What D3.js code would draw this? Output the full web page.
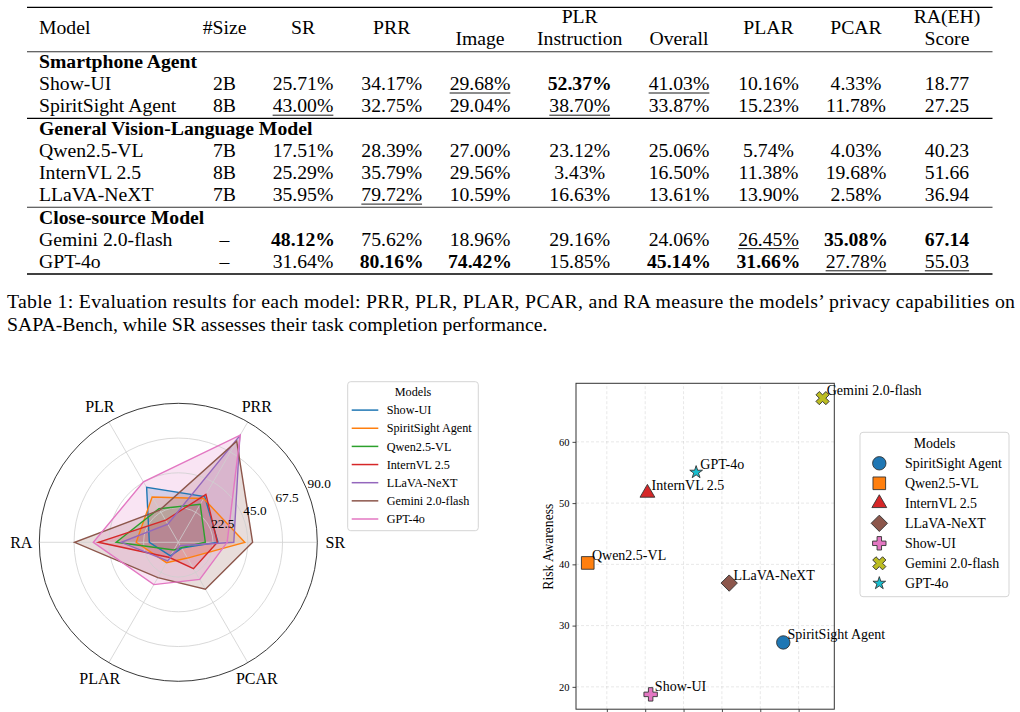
<!DOCTYPE html>
<html>
<head>
<meta charset="utf-8">
<script src="https://cdn.jsdelivr.net/npm/d3@7"></script>
<style>
  body { margin: 0; background: #fff; }
  svg { display: block; }
  text { font-family: "Liberation Serif", "Times New Roman", serif; fill: #000; }
</style>
</head>
<body>
<script>
// ---- data ----
const models = ["Show-UI", "SpiritSight Agent", "Qwen2.5-VL", "InternVL 2.5", "LLaVA-NeXT", "Gemini 2.0-flash", "GPT-4o"];
const groupNames = ["Smartphone Agent", "General Vision-Language Model", "Close-source Model"];
const groupOf = [0, 0, 1, 1, 1, 2, 2];
const sizes = ["2B", "8B", "7B", "8B", "7B", "–", "–"];
const sr = [25.71, 43.0, 17.51, 25.29, 35.95, 48.12, 31.64];
const prr = [34.17, 32.75, 28.39, 35.79, 79.72, 75.62, 80.16];
const plrImage = [29.68, 29.04, 27.0, 29.56, 10.59, 18.96, 74.42];
const plrInstruction = [52.37, 38.7, 23.12, 3.43, 16.63, 29.16, 15.85];
const plrOverall = [41.03, 33.87, 25.06, 16.5, 13.61, 24.06, 45.14];
const plar = [10.16, 15.23, 5.74, 11.38, 13.9, 26.45, 31.66];
const pcar = [4.33, 11.78, 4.03, 19.68, 2.58, 35.08, 27.78];
const raScore = [18.77, 27.25, 40.23, 51.66, 36.94, 67.14, 55.03];

const captionLines = [
  "Table 1: Evaluation results for each model: PRR, PLR, PLAR, PCAR, and RA measure the models’ privacy capabilities on",
  "SAPA-Bench, while SR assesses their task completion performance."
];

const radarAxes = ["SR", "PRR", "PLR", "RA", "PLAR", "PCAR"];
const radarTicks = [22.5, 45, 67.5, 90];

const scatterOrder = ["SpiritSight Agent", "Qwen2.5-VL", "InternVL 2.5", "LLaVA-NeXT", "Show-UI", "Gemini 2.0-flash", "GPT-4o"];
const xTicks = [20, 25, 30, 35, 40, 45];
const yTicks = [20, 30, 40, 50, 60];

// ---- setup ----
const width = 1020;
const height = 712;
const tab10 = ["#1f77b4", "#ff7f0e", "#2ca02c", "#d62728", "#9467bd", "#8c564b", "#e377c2", "#7f7f7f", "#bcbd22", "#17becf"];

const svg = d3.select("body").append("svg")
  .attr("width", width)
  .attr("height", height);
svg.append("rect").attr("width", width).attr("height", height).attr("fill", "#fff");

// ---- table ----
const fs = 19.7;
const pct = (v) => v.toFixed(2) + "%";
const table = svg.append("g");

const columns = [
  { values: sizes, x: 224.5, fmt: (d) => d, rank: false },
  { values: sr, x: 303, fmt: pct, rank: true },
  { values: prr, x: 391.7, fmt: pct, rank: true },
  { values: plrImage, x: 480, fmt: pct, rank: true },
  { values: plrInstruction, x: 579.7, fmt: pct, rank: true },
  { values: plrOverall, x: 679, fmt: pct, rank: true },
  { values: plar, x: 768.5, fmt: pct, rank: true },
  { values: pcar, x: 856, fmt: pct, rank: true },
  { values: raScore, x: 947, fmt: (v) => v.toFixed(2), rank: true }
];

const headers = [
  { text: "Model", x: 39, y: 34.3, anchor: "start" },
  { text: "#Size", x: 224.5, y: 34.3 },
  { text: "SR", x: 303, y: 34.3 },
  { text: "PRR", x: 391.7, y: 34.3 },
  { text: "Image", x: 480, y: 44.6 },
  { text: "PLR", x: 579.7, y: 23.3 },
  { text: "Instruction", x: 579.7, y: 44.6 },
  { text: "Overall", x: 679, y: 44.6 },
  { text: "PLAR", x: 768.5, y: 34.3 },
  { text: "PCAR", x: 856, y: 34.3 },
  { text: "RA(EH)", x: 947, y: 23.3 },
  { text: "Score", x: 947, y: 44.6 }
];

table.selectAll(".hdr")
  .data(headers)
  .enter()
  .append("text")
  .attr("class", "hdr")
  .attr("x", (d) => d.x)
  .attr("y", (d) => d.y)
  .attr("text-anchor", (d) => d.anchor || "middle")
  .style("font-size", fs + "px")
  .text((d) => d.text);

const tableLeft = 27;
const tableRight = 992.5;
const rule = (y, w, c) =>
  table.append("line")
    .attr("x1", tableLeft).attr("x2", tableRight)
    .attr("y1", y).attr("y2", y)
    .attr("stroke", c).attr("stroke-width", w);

rule(7.3, 1.3, "#000");
rule(51.7, 1.1, "#333");

// best (bold) and second best (underline) per column
columns.forEach((c) => {
  if (!c.rank) return;
  const order = d3.range(c.values.length).sort((a, b) => c.values[b] - c.values[a]);
  c.best = order[0];
  c.second = order[1];
});

const rowStep = 22.2;
let y = 51.7;
groupNames.forEach((g, gi) => {
  y += 16.3;
  table.append("text")
    .attr("x", 39).attr("y", y)
    .style("font-size", fs + "px")
    .style("font-weight", "bold")
    .text(g);
  const members = d3.range(models.length).filter((i) => groupOf[i] === gi);
  members.forEach((i) => {
    y += rowStep;
    const rowY = y;
    table.append("text")
      .attr("x", 39).attr("y", rowY)
      .style("font-size", fs + "px")
      .text(models[i]);
    columns.forEach((c) => {
      const t = table.append("text")
        .attr("x", c.x).attr("y", rowY)
        .attr("text-anchor", "middle")
        .style("font-size", fs + "px")
        .style("font-weight", c.best === i ? "bold" : "normal")
        .text(c.fmt(c.values[i]));
      if (c.second === i) {
        const w = t.node().getComputedTextLength();
        table.append("line")
          .attr("x1", c.x - w / 2).attr("x2", c.x + w / 2)
          .attr("y1", rowY + 2.8).attr("y2", rowY + 2.8)
          .attr("stroke", "#000").attr("stroke-width", 0.9);
      }
    });
  });
  y += 6;
  if (gi < groupNames.length - 1) rule(y, 1.1, gi === 0 ? "#000" : "#333");
  else rule(y, 1.3, "#000");
});

// caption
svg.append("text")
  .attr("x", 7).attr("y", 308)
  .attr("textLength", 1008)
  .attr("lengthAdjust", "spacing")
  .style("font-size", "19.8px")
  .text(captionLines[0]);
svg.append("text")
  .attr("x", 7).attr("y", 331)
  .style("font-size", "19.8px")
  .text(captionLines[1]);

// ---- radar ----
const cx = 178.3;
const cy = 542.3;
const rScale = d3.scaleLinear().domain([0, 90]).range([0, 139]);
const radarValues = [sr, prr, plrOverall, raScore, plar, pcar];
const angleStep = (2 * Math.PI) / radarAxes.length;

const radar = svg.append("g").attr("transform", `translate(${cx},${cy})`);
const pt = (v, k) => [rScale(v) * Math.cos(k * angleStep), -rScale(v) * Math.sin(k * angleStep)];

const polyLine = d3.line().curve(d3.curveLinearClosed);
const seriesPoints = models.map((m, i) => radarAxes.map((a, k) => pt(radarValues[k][i], k)));

radar.selectAll(".fill")
  .data(seriesPoints)
  .enter()
  .append("path")
  .attr("class", "fill")
  .attr("d", (d) => polyLine(d))
  .attr("fill", (d, i) => tab10[i])
  .attr("fill-opacity", 0.2)
  .attr("stroke", "none");

// grid
radar.selectAll(".ring")
  .data(radarTicks.slice(0, -1))
  .enter()
  .append("circle")
  .attr("class", "ring")
  .attr("r", (d) => rScale(d))
  .attr("fill", "none")
  .attr("stroke", "#cfcfcf")
  .attr("stroke-width", 0.8);

radar.selectAll(".spoke")
  .data(radarAxes)
  .enter()
  .append("line")
  .attr("class", "spoke")
  .attr("x1", 0).attr("y1", 0)
  .attr("x2", (d, k) => pt(90, k)[0])
  .attr("y2", (d, k) => pt(90, k)[1])
  .attr("stroke", "#cfcfcf")
  .attr("stroke-width", 0.8);

radar.append("circle")
  .attr("r", rScale(90))
  .attr("fill", "none")
  .attr("stroke", "#222")
  .attr("stroke-width", 0.9);

radar.selectAll(".series")
  .data(seriesPoints)
  .enter()
  .append("path")
  .attr("class", "series")
  .attr("d", (d) => polyLine(d))
  .attr("fill", "none")
  .attr("stroke", (d, i) => tab10[i])
  .attr("stroke-width", 1.4)
  .attr("stroke-linejoin", "miter");

// radial tick labels along 22.5°
const tickAngle = (22.5 * Math.PI) / 180;
radar.selectAll(".rtick")
  .data(radarTicks)
  .enter()
  .append("text")
  .attr("class", "rtick")
  .attr("x", (d) => (rScale(d) + 13.5) * Math.cos(tickAngle))
  .attr("y", (d) => -(rScale(d) + 13.5) * Math.sin(tickAngle) + 4.5)
  .attr("text-anchor", "middle")
  .style("font-size", "13.3px")
  .text((d) => d.toFixed(1));

radar.selectAll(".axlabel")
  .data(radarAxes)
  .enter()
  .append("text")
  .attr("class", "axlabel")
  .attr("x", (d, k) => 157 * Math.cos(k * angleStep))
  .attr("y", (d, k) => -157 * Math.sin(k * angleStep) + 5.5)
  .attr("text-anchor", "middle")
  .style("font-size", "16px")
  .text((d) => d);

// radar legend
const rl = svg.append("g").attr("transform", "translate(347.7,381.7)");
rl.append("rect")
  .attr("width", 130.6).attr("height", 149)
  .attr("rx", 3)
  .attr("fill", "#fff").attr("fill-opacity", 0.8)
  .attr("stroke", "#d0d0d0").attr("stroke-width", 0.9);
rl.append("text")
  .attr("x", 65.3).attr("y", 14)
  .attr("text-anchor", "middle")
  .style("font-size", "12.2px")
  .text("Models");
const rlItems = rl.selectAll(".item")
  .data(models)
  .enter()
  .append("g")
  .attr("transform", (d, i) => `translate(0,${28.4 + i * 18.15})`);
rlItems.append("line")
  .attr("x1", 4).attr("x2", 30.6)
  .attr("stroke", (d, i) => tab10[i])
  .attr("stroke-width", 1.5);
rlItems.append("text")
  .attr("x", 39).attr("y", 4.2)
  .style("font-size", "12.2px")
  .text((d) => d);

// ---- scatter ----
const xScale = d3.scaleLinear().domain([15.98, 49.65]).range([576, 834.3]);
const yScale = d3.scaleLinear().domain([16.35, 69.56]).range([709.2, 383.3]);
const sc = svg.append("g");

sc.selectAll(".gx")
  .data(xTicks)
  .enter()
  .append("line")
  .attr("x1", (d) => xScale(d)).attr("x2", (d) => xScale(d))
  .attr("y1", yScale.range()[0]).attr("y2", yScale.range()[1])
  .attr("stroke", "#000").attr("stroke-opacity", 0.12)
  .attr("stroke-dasharray", "3,2").attr("stroke-width", 0.8);
sc.selectAll(".gy")
  .data(yTicks)
  .enter()
  .append("line")
  .attr("y1", (d) => yScale(d)).attr("y2", (d) => yScale(d))
  .attr("x1", xScale.range()[0]).attr("x2", xScale.range()[1])
  .attr("stroke", "#000").attr("stroke-opacity", 0.12)
  .attr("stroke-dasharray", "3,2").attr("stroke-width", 0.8);

const yAxis = d3.axisLeft(yScale).tickValues(yTicks).tickSize(3.5).tickPadding(3).tickFormat(d3.format("d"));
const yg = sc.append("g").attr("transform", `translate(${xScale.range()[0]},0)`).call(yAxis);
yg.select(".domain").remove();
yg.selectAll(".tick line").attr("stroke", "#333").attr("stroke-width", 0.9);
yg.selectAll(".tick text")
  .style("font-family", '"Liberation Serif", "Times New Roman", serif')
  .style("font-size", "10.5px")
  .attr("fill", "#000");

// x tick labels fall below the visible frame, as in the reference crop
const xAxis = d3.axisBottom(xScale).tickValues(xTicks).tickSize(3.5).tickFormat("");
const xg = sc.append("g").attr("transform", `translate(0,${yScale.range()[0]})`).call(xAxis);
xg.select(".domain").remove();
xg.selectAll(".tick line").attr("stroke", "#333").attr("stroke-width", 0.9);
xg.selectAll(".tick text").remove();

sc.append("rect")
  .attr("x", xScale.range()[0]).attr("y", yScale.range()[1])
  .attr("width", xScale.range()[1] - xScale.range()[0])
  .attr("height", yScale.range()[0] - yScale.range()[1])
  .attr("fill", "none").attr("stroke", "#333").attr("stroke-width", 1);

sc.append("text")
  .attr("transform", "translate(553,546.7) rotate(-90)")
  .attr("text-anchor", "middle")
  .style("font-size", "13.6px")
  .text("Risk Awareness");

const markerStyle = {
  "SpiritSight Agent": { type: d3.symbolCircle, size: 141, rot: 0, color: tab10[0] },
  "Qwen2.5-VL": { type: d3.symbolSquare, size: 160, rot: 0, color: tab10[1] },
  "InternVL 2.5": { type: d3.symbolTriangle, size: 95, rot: 0, color: tab10[3] },
  "LLaVA-NeXT": { type: d3.symbolSquare, size: 133, rot: 45, color: tab10[5] },
  "Show-UI": { type: d3.symbolCross, size: 100, rot: 0, color: tab10[6] },
  "Gemini 2.0-flash": { type: d3.symbolCross, size: 108, rot: 45, color: tab10[8] },
  "GPT-4o": { type: d3.symbolStar, size: 50, rot: 0, color: tab10[9] }
};

const scatterData = scatterOrder.map((name) => {
  const i = models.indexOf(name);
  return { name, x: sr[i], y: raScore[i] };
});

sc.selectAll(".pt")
  .data(scatterData)
  .enter()
  .append("path")
  .attr("class", "pt")
  .attr("transform", (d) => `translate(${xScale(d.x)},${yScale(d.y)}) rotate(${markerStyle[d.name].rot})`)
  .attr("d", (d) => d3.symbol().type(markerStyle[d.name].type).size(markerStyle[d.name].size)())
  .attr("fill", (d) => markerStyle[d.name].color)
  .attr("stroke", "#333")
  .attr("stroke-width", 0.9);

sc.selectAll(".ptlabel")
  .data(scatterData)
  .enter()
  .append("text")
  .attr("class", "ptlabel")
  .attr("x", (d) => xScale(d.x) + 4.2)
  .attr("y", (d) => yScale(d.y) - 3)
  .style("font-size", "14px")
  .text((d) => d.name);

// scatter legend
const sl = svg.append("g").attr("transform", "translate(860,432.3)");
sl.append("rect")
  .attr("width", 149).attr("height", 164.4)
  .attr("rx", 3)
  .attr("fill", "#fff").attr("fill-opacity", 0.8)
  .attr("stroke", "#d0d0d0").attr("stroke-width", 0.9);
sl.append("text")
  .attr("x", 74.5).attr("y", 15.8)
  .attr("text-anchor", "middle")
  .style("font-size", "13.9px")
  .text("Models");
const slItems = sl.selectAll(".item")
  .data(scatterOrder)
  .enter()
  .append("g")
  .attr("transform", (d, i) => `translate(0,${31 + i * 20})`);
slItems.append("path")
  .attr("transform", (d) => `translate(19.3,0) rotate(${markerStyle[d].rot})`)
  .attr("d", (d) => d3.symbol().type(markerStyle[d].type).size(markerStyle[d].size)())
  .attr("fill", (d) => markerStyle[d].color)
  .attr("stroke", "#333")
  .attr("stroke-width", 0.9);
slItems.append("text")
  .attr("x", 45).attr("y", 4.8)
  .style("font-size", "13.9px")
  .text((d) => d);
</script>
</body>
</html>
